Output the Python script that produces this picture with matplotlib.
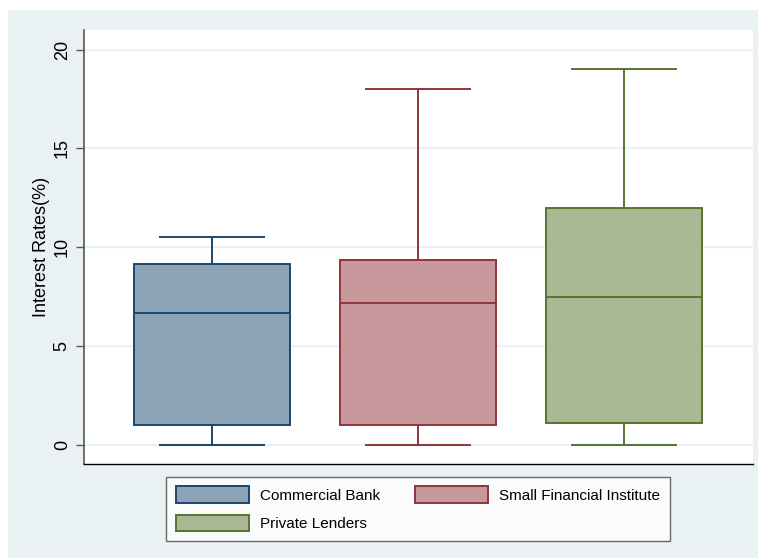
import matplotlib
matplotlib.use("Agg")
import matplotlib.pyplot as plt
from matplotlib.patches import Rectangle, Patch

plt.rcParams['font.family'] = ['Liberation Sans', 'DejaVu Sans']

categories = ["Commercial Bank", "Small Financial Institute", "Private Lenders"]
whislo = [0.0, 0.0, 0.0]
q1 = [1.0, 1.0, 1.1]
med = [6.65, 7.17, 7.5]
q3 = [9.15, 9.35, 12.0]
whishi = [10.5, 18.0, 19.0]
yticks = [0, 5, 10, 15, 20]

edge_colors = ["#1A476F", "#90353B", "#55752F"]
fill_colors = ["#8DA3B8", "#C8999C", "#AAB894"]
bg = "#EAF1F3"

fig = plt.figure(figsize=(7.58, 5.58), dpi=100)
fig.patch.set_facecolor("white")
fig.patches.append(Rectangle((8/758, 0), 1 - 8/758, 1 - 10/558, transform=fig.transFigure,
                             facecolor=bg, edgecolor="none", zorder=-10))

ax = fig.add_axes([84/758, 1 - 464/558, (753-84)/758, (464-30)/558])
ax.set_facecolor("white")

for i in range(len(categories)):
    stats = [dict(label=categories[i], whislo=whislo[i], q1=q1[i], med=med[i],
                  q3=q3[i], whishi=whishi[i], fliers=[])]
    c = edge_colors[i]
    ax.bxp(stats, positions=[i + 1], widths=0.757, patch_artist=True, showfliers=False,
           boxprops=dict(facecolor=fill_colors[i], edgecolor=c, linewidth=1.4),
           medianprops=dict(color=c, linewidth=1.4),
           whiskerprops=dict(color=c, linewidth=1.4),
           capprops=dict(color=c, linewidth=1.4),
           capwidths=0.505, zorder=3)

ax.set_xlim(0.379, 3.626)
ax.set_ylim(-0.98, 21.0)
ax.set_xticks([])
ax.set_yticks(yticks)
ax.set_yticklabels([str(t) for t in yticks], rotation=90, va='center', fontsize=13)
ax.tick_params(axis='y', length=6, width=1, color="#555555", pad=3.5)
ax.yaxis.grid(True, color=bg, linewidth=1.6, zorder=0)
ax.set_axisbelow(True)
ax.set_ylabel("Interest Rates(%)", fontsize=13, labelpad=3)

for s in ["top", "right"]:
    ax.spines[s].set_visible(False)
ax.spines["left"].set_color("#555555")
ax.spines["left"].set_linewidth(1.2)
ax.spines["bottom"].set_color("#000000")
ax.spines["bottom"].set_linewidth(1.0)

handles = [Patch(facecolor=fill_colors[0], edgecolor=edge_colors[0], linewidth=1.4),
           Patch(facecolor=fill_colors[2], edgecolor=edge_colors[2], linewidth=1.4),
           Patch(facecolor=fill_colors[1], edgecolor=edge_colors[1], linewidth=1.4)]
labels = [categories[0], categories[2], categories[1]]
leg = fig.legend(handles, labels, ncol=2, loc='upper center',
                 bbox_to_anchor=(418/758, 1 - 477/558), fontsize=11,
                 handlelength=4.8, handleheight=1.3, handletextpad=0.7,
                 columnspacing=2.3, labelspacing=0.75, borderpad=0.62,
                 fancybox=False, frameon=True, borderaxespad=0)
leg.get_frame().set_edgecolor("#444444")
leg.get_frame().set_linewidth(1.0)

fig.savefig("out.png", dpi=100, facecolor=fig.get_facecolor())
